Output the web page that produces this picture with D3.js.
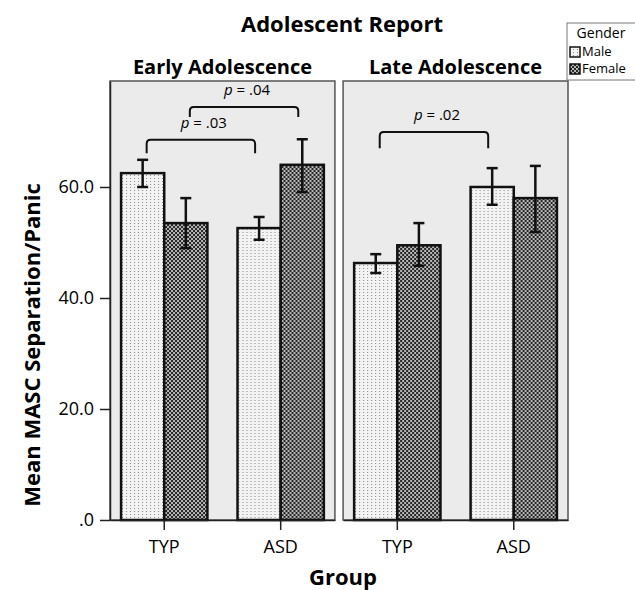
<!DOCTYPE html>
<html>
<head>
<meta charset="utf-8">
<script src="https://cdn.jsdelivr.net/npm/d3@7"></script>
<style>
  body { margin: 0; background: #fff; }
  text { font-family: "Open Sans", sans-serif; fill: #000; }
</style>
</head>
<body>
<div id="chart"></div>
<script>
var width = 635;
var height = 590;

var periods = ["Early Adolescence", "Late Adolescence"];
var groups = ["TYP", "ASD"];
var genders = ["Male", "Female"];
var yTicks = [0, 20, 40, 60];

// means and error bar ends, [period][group][gender]
var means = [
  [[62.5, 53.5], [52.6, 64.0]],
  [[46.3, 49.5], [60.0, 58.0]]
];
var errLow = [
  [[60.0, 49.0], [50.5, 59.1]],
  [[44.5, 45.8], [56.8, 51.9]]
];
var errHigh = [
  [[64.9, 58.0], [54.6, 68.6]],
  [[47.9, 53.5], [63.4, 63.8]]
];

// significance brackets
var brackets = [
  { period: 0, gender: 0, top: 68.5, leg: 66.1, label: ".03", textY: 70.6 },
  { period: 0, gender: 1, top: 74.4, leg: 72.6, label: ".04", textY: 76.5 },
  { period: 1, gender: 0, top: 69.9, leg: 67.0, label: ".02", textY: 72.0 }
];

var svg = d3.select("#chart").append("svg")
  .attr("width", width).attr("height", height);

var defs = svg.append("defs");
var pm = defs.append("pattern").attr("id", "pat-male")
  .attr("patternUnits", "userSpaceOnUse").attr("width", 4).attr("height", 3);
pm.append("rect").attr("width", 4).attr("height", 3).attr("fill", "#f3f3f3");
pm.append("rect").attr("x", 1).attr("y", 1).attr("width", 1).attr("height", 1).attr("fill", "#8a8a8a");

var pf = defs.append("pattern").attr("id", "pat-female")
  .attr("patternUnits", "userSpaceOnUse").attr("width", 4).attr("height", 4);
pf.append("rect").attr("width", 4).attr("height", 4).attr("fill", "#262626");
pf.append("circle").attr("cx", 1).attr("cy", 1).attr("r", 0.95).attr("fill", "#f4f4f4");
pf.append("circle").attr("cx", 3).attr("cy", 3).attr("r", 0.95).attr("fill", "#f4f4f4");

var fills = ["url(#pat-male)", "url(#pat-female)"];

var plotTop = 81, plotBottom = 520;
var panelX = d3.scaleBand().domain(d3.range(periods.length))
  .range([110, 568]).paddingInner(0.035);

var y = d3.scaleLinear().domain([0, 79.1]).range([plotBottom, plotTop]);

svg.append("text").attr("x", 342).attr("y", 32)
  .attr("text-anchor", "middle").style("font-size", "22px").style("font-weight", "bold")
  .text("Adolescent Report");

periods.forEach(function(p, pi) {
  var x0 = panelX(pi), pw = panelX.bandwidth();
  var g = svg.append("g");

  g.append("rect").attr("x", x0).attr("y", plotTop).attr("width", pw).attr("height", plotBottom - plotTop)
    .attr("fill", "#ebebeb").attr("stroke", "#555").attr("stroke-width", 1.5);

  g.append("text").attr("x", x0 + pw / 2).attr("y", 74)
    .attr("text-anchor", "middle").style("font-size", "20px").style("font-weight", "bold")
    .text(p);

  var xg = d3.scaleBand().domain(groups).range([x0, x0 + pw])
    .paddingInner(0.2586).paddingOuter(0.095);
  var xs = d3.scaleBand().domain(d3.range(genders.length)).range([0, xg.bandwidth()]);

  groups.forEach(function(gr, gi) {
    var bars = g.append("g").attr("transform", "translate(" + xg(gr) + ",0)");
    bars.selectAll("rect").data(means[pi][gi]).enter().append("rect")
      .attr("x", function(d, i) { return xs(i); })
      .attr("y", function(d) { return y(d); })
      .attr("width", xs.bandwidth())
      .attr("height", function(d) { return plotBottom - y(d); })
      .attr("fill", function(d, i) { return fills[i]; })
      .attr("stroke", "#111").attr("stroke-width", 2.5);

    var eb = bars.selectAll("g.err").data(genders).enter().append("g")
      .attr("stroke", "#111").attr("stroke-width", 2.5);
    eb.append("line")
      .attr("x1", function(d, i) { return xs(i) + xs.bandwidth() / 2; })
      .attr("x2", function(d, i) { return xs(i) + xs.bandwidth() / 2; })
      .attr("y1", function(d, i) { return y(errLow[pi][gi][i]); })
      .attr("y2", function(d, i) { return y(errHigh[pi][gi][i]); });
    [errLow, errHigh].forEach(function(arr) {
      eb.append("line")
        .attr("x1", function(d, i) { return xs(i) + xs.bandwidth() / 2 - 5.5; })
        .attr("x2", function(d, i) { return xs(i) + xs.bandwidth() / 2 + 5.5; })
        .attr("y1", function(d, i) { return y(arr[pi][gi][i]); })
        .attr("y2", function(d, i) { return y(arr[pi][gi][i]); });
    });
  });

  // x axis
  var ax = g.append("g").attr("transform", "translate(0," + plotBottom + ")")
    .call(d3.axisBottom(xg).tickSize(10).tickSizeOuter(0).tickPadding(10));
  ax.select(".domain").attr("stroke", "#222").attr("stroke-width", 1.5);
  ax.selectAll(".tick line").attr("stroke", "#222").attr("stroke-width", 1.5);
  ax.selectAll(".tick text").style("font-size", "18px").style("font-family", "Open Sans, sans-serif").attr("fill", "#000");

  // brackets
  brackets.filter(function(b) { return b.period === pi; }).forEach(function(b) {
    var xa = xg(groups[0]) + xs(b.gender) + xs.bandwidth() / 2 + 4;
    var xb = xg(groups[1]) + xs(b.gender) + xs.bandwidth() / 2 - 4;
    var yt = y(b.top), yl = y(b.leg), r = 4;
    g.append("path")
      .attr("d", "M" + xa + "," + yl + " L" + xa + "," + (yt + r) + " Q" + xa + "," + yt + " " + (xa + r) + "," + yt +
        " L" + (xb - r) + "," + yt + " Q" + xb + "," + yt + " " + xb + "," + (yt + r) + " L" + xb + "," + yl)
      .attr("fill", "none").attr("stroke", "#111").attr("stroke-width", 2);
    var t = g.append("text").attr("x", (xa + xb) / 2 + 3).attr("y", y(b.textY))
      .attr("text-anchor", "middle").style("font-size", "15px");
    t.append("tspan").style("font-style", "italic").text("p");
    t.append("tspan").text(" = " + b.label);
  });
});

// y axis
var ay = svg.append("g").attr("transform", "translate(110,0)")
  .call(d3.axisLeft(y).tickValues(yTicks).tickSize(10).tickSizeOuter(0).tickPadding(6)
    .tickFormat(function(d) { return d === 0 ? ".0" : d3.format(".1f")(d); }));
ay.select(".domain").attr("stroke", "#222").attr("stroke-width", 1.5);
ay.selectAll(".tick line").attr("stroke", "#222").attr("stroke-width", 1.5);
ay.selectAll(".tick text").style("font-size", "18px").style("font-family", "Open Sans, sans-serif").attr("fill", "#000");

svg.append("text").attr("transform", "translate(40,345) rotate(-90)")
  .attr("text-anchor", "middle").style("font-size", "22px").style("font-weight", "bold")
  .text("Mean MASC Separation/Panic");

svg.append("text").attr("x", 343).attr("y", 585)
  .attr("text-anchor", "middle").style("font-size", "22px").style("font-weight", "bold")
  .text("Group");

// legend
var lg = svg.append("g");
lg.append("rect").attr("x", 567).attr("y", 23).attr("width", 70).attr("height", 57)
  .attr("fill", "#fff").attr("stroke", "#777").attr("stroke-width", 1);
lg.append("text").attr("x", 601).attr("y", 38).attr("text-anchor", "middle")
  .style("font-size", "14px").text("Gender");
genders.forEach(function(gd, i) {
  lg.append("rect").attr("x", 570).attr("y", 47 + i * 17).attr("width", 10).attr("height", 10)
    .attr("fill", fills[i]).attr("stroke", "#111").attr("stroke-width", 1.5);
  lg.append("text").attr("x", 582).attr("y", 56 + i * 17).style("font-size", "13px").text(gd);
});
</script>
</body>
</html>
